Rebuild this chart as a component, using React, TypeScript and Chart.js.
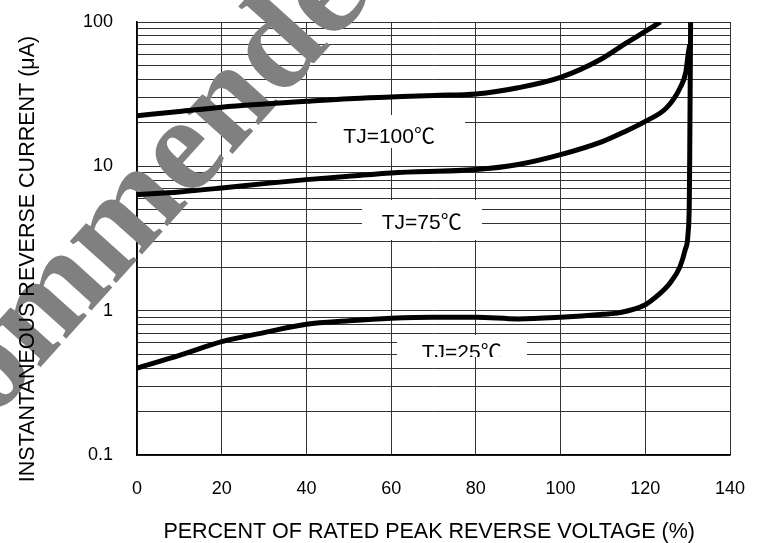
import React, { useEffect, useRef } from "react";
import { Chart, registerables } from "chart.js";

Chart.register(...registerables);

// ---- data ----
const x100 = [0, 10, 20, 30, 40, 50, 60, 70, 80, 90, 100, 109.3, 115, 120, 123.6];
const y100 = [22.4, 24, 25.7, 27, 28.2, 29.4, 30.2, 31, 31.7, 35, 41.3, 54.7, 70, 86, 100];

const x75 = [0, 10, 20, 30, 40, 50, 60, 80, 90, 100, 110, 115, 120, 125, 128.2, 129.6, 130.1, 130.5];
const y75 = [6.37, 6.65, 7.08, 7.59, 8.09, 8.53, 9.0, 9.49, 10.3, 12.05, 14.9, 17.3, 20.5, 25.4, 34.9, 45.4, 59.3, 70];

const x25 = [0, 10, 20, 30, 40, 50, 60, 70, 80, 90, 100, 110, 114, 120, 123, 125.8, 128.2, 129.4, 130.1, 130.4, 130.5, 130.7];
const y25 = [0.4, 0.49, 0.61, 0.705, 0.805, 0.85, 0.885, 0.9, 0.9, 0.876, 0.9, 0.944, 0.97, 1.1, 1.28, 1.55, 2.02, 2.63, 3.43, 5.84, 12.9, 100];

const xTicks = [0, 20, 40, 60, 80, 100, 120, 140];
const yMajorTicks = [0.1, 1, 10, 100];
const curveLabels = ["TJ=100℃", "TJ=75℃", "TJ=25℃"];
const xTitle = "PERCENT OF RATED PEAK REVERSE VOLTAGE (%)";
const yTitle = "INSTANTANEOUS REVERSE CURRENT (μA)";
const watermark = "Not Recommended";

const SANS = '"Liberation Sans", Arial, "Noto Sans CJK SC", sans-serif';

const toPoints = (xs: number[], ys: number[]) => xs.map((x, i) => ({ x, y: ys[i] }));

// label boxes (pixel geometry)
const boxes = [
  { x0: 317, x1: 465, y0: 115, y1: 148, tx: 343.3, ty: 143.3 },
  { x0: 362, x1: 482, y0: 200, y1: 240, tx: 381.7, ty: 229.3 },
  { x0: 397, x1: 527, y0: 335, y1: 357, tx: 421.7, ty: 359 },
];

const overlayPlugin = {
  id: "overlay",
  beforeDatasetsDraw(chart: any) {
    const ctx = chart.ctx as CanvasRenderingContext2D;
    boxes.forEach((b, i) => {
      ctx.save();
      ctx.fillStyle = "#ffffff";
      ctx.fillRect(b.x0, b.y0, b.x1 - b.x0, b.y1 - b.y0);
      ctx.beginPath();
      ctx.rect(b.x0, b.y0, b.x1 - b.x0, b.y1 - b.y0);
      ctx.clip();
      ctx.fillStyle = "#000";
      ctx.font = `21px ${SANS}`;
      ctx.textBaseline = "alphabetic";
      ctx.textAlign = "left";
      ctx.fillText(curveLabels[i], b.tx, b.ty);
      ctx.restore();
    });
    ctx.save();
    ctx.font = 'bold 136px "Liberation Serif", "Times New Roman", serif';
    const pre = ctx.measureText("Not Reco").width;
    ctx.translate(38, 370);
    ctx.rotate((-48 * Math.PI) / 180);
    ctx.fillStyle = "#808080";
    ctx.textBaseline = "alphabetic";
    ctx.fillText(watermark, -pre, 0);
    ctx.restore();
  },
  afterDraw(chart: any) {
    const ctx = chart.ctx as CanvasRenderingContext2D;
    ctx.save();
    ctx.fillStyle = "#000";
    ctx.font = `21.5px ${SANS}`;
    ctx.textAlign = "center";
    ctx.textBaseline = "alphabetic";
    ctx.fillText(xTitle, 429.2, 538.3);
    ctx.translate(33.5, 259);
    ctx.rotate(-Math.PI / 2);
    ctx.fillText(yTitle, 0, 0);
    ctx.restore();
  },
};

export default function App() {
  const ref = useRef<HTMLCanvasElement | null>(null);
  useEffect(() => {
    if (!ref.current) return;
    const ds = (xs: number[], ys: number[]) => ({
      data: toPoints(xs, ys),
      showLine: true,
      borderColor: "#000",
      borderWidth: 5,
      pointRadius: 0,
      cubicInterpolationMode: "monotone" as const,
      fill: false,
    });
    const chart = new Chart(ref.current, {
      type: "scatter",
      data: { datasets: [ds(x100, y100), ds(x75, y75), ds(x25, y25)] },
      options: {
        animation: false,
        responsive: false,
        layout: { padding: { top: 22, right: 32, left: 0, bottom: 0 } },
        plugins: { legend: { display: false }, tooltip: { enabled: false } },
        scales: {
          x: {
            type: "linear",
            min: 0,
            max: 140,
            afterBuildTicks: (s: any) => {
              s.ticks = xTicks.map((v) => ({ value: v }));
            },
            afterFit: (s: any) => {
              s.height = 88;
              s.paddingLeft = 0;
              s.paddingRight = 0;
            },
            grid: { color: "#333", lineWidth: 1, drawTicks: false },
            border: { display: true, color: "#000", width: 1.5 },
            ticks: {
              color: "#000",
              font: { family: SANS, size: 18 },
              padding: 23,
              maxRotation: 0,
              callback: (v: any) => String(v),
            },
          },
          y: {
            type: "logarithmic",
            min: 0.1,
            max: 100,
            afterBuildTicks: (s: any) => {
              const t: any[] = [];
              yMajorTicks.forEach((m, i) => {
                if (i === yMajorTicks.length - 1) {
                  t.push({ value: m, major: true });
                  return;
                }
                for (let k = 1; k <= 9; k++) t.push({ value: m * k, major: k === 1 });
              });
              s.ticks = t;
            },
            afterFit: (s: any) => {
              s.width = 137;
              s.paddingTop = 0;
              s.paddingBottom = 0;
            },
            grid: { color: "#333", lineWidth: 1, drawTicks: false },
            border: { display: true, color: "#000", width: 1.5 },
            ticks: {
              color: "#000",
              font: { family: SANS, size: 18 },
              padding: 24,
              autoSkip: false,
              callback: (v: any) => (yMajorTicks.includes(Number(v)) ? String(v) : ""),
            },
          },
        },
      },
      plugins: [overlayPlugin],
    });
    return () => chart.destroy();
  }, []);
  return (
    <div style={{ position: "absolute", left: 0, top: 0, width: 762, height: 543, background: "#fff" }}>
      <canvas ref={ref} width={762} height={543} />
    </div>
  );
}
